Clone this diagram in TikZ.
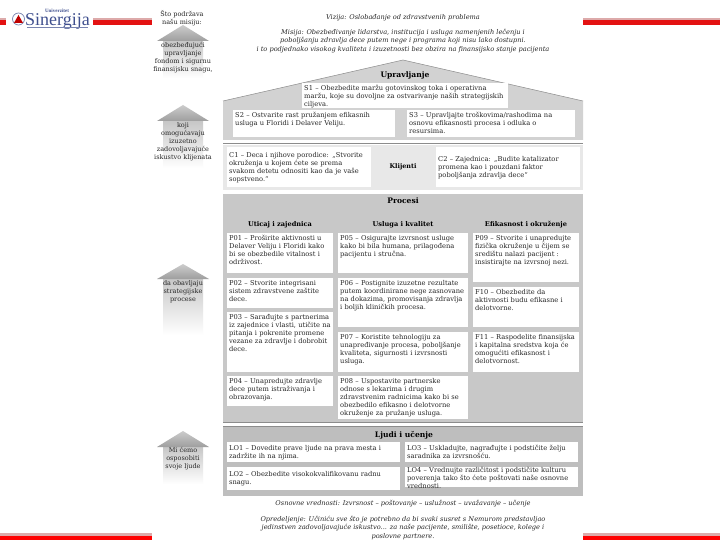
\documentclass[tikz,border=0pt]{standalone}
\usepackage{fontspec}
\usepackage{xcolor}
\setmainfont{DejaVu Serif}
\newfontfamily\logofont{Liberation Serif}
\usetikzlibrary{positioning}
\definecolor{roofgray}{HTML}{D2D2D2}
\definecolor{clientgray}{HTML}{E8E8E8}
\definecolor{procgray}{HTML}{C8C8C8}
\definecolor{peoplegray}{HTML}{BEBEBE}
\definecolor{rulegray}{HTML}{8C8C8C}
\definecolor{barred}{HTML}{E31212}
\definecolor{barpale}{HTML}{DDAAAA}
\definecolor{logoblue}{HTML}{3F4F8E}

\begin{document}
\begin{tikzpicture}[
    x=1pt,y=-1pt,
    card/.code 2 args={\pgfmathsetmacro{\cardw}{#1-4}\pgfmathsetmacro{\cardd}{#2-8.5}
        \tikzset{anchor=north west,fill=white,inner xsep=2pt,inner ysep=1.5pt,align=left,
                 font=\fontsize{6.7}{8}\selectfont,text=black!85,
                 text width=\cardw pt,text height=5.5pt,text depth=\cardd pt}},
    cardmid/.code 2 args={\pgfmathsetmacro{\cardw}{#1-4}
        \tikzset{anchor=north west,fill=white,inner xsep=2pt,inner ysep=0pt,align=left,
                 font=\fontsize{6.7}{8}\selectfont,text=black!85,
                 text width=\cardw pt,minimum height=#2pt}},
    head/.style={font=\fontsize{6.6}{8}\selectfont\bfseries,inner sep=0pt},
    bighead/.style={font=\fontsize{7.6}{8}\selectfont\bfseries,inner sep=0pt},
    side/.style={anchor=north,align=center,inner sep=0pt,font=\fontsize{6.5}{8}\selectfont,text=black!85},
    motto/.style={anchor=center,align=center,inner sep=0pt,font=\fontsize{6.6}{8.5}\selectfont\itshape,text=black!85},
    redbar/.style={fill=barred},
    palebar/.style={fill=barpale}
]
\useasboundingbox (0,0) rectangle (720,540);
\fill[white] (0,0) rectangle (720,540);

% red bars
\foreach \xa/\xb in {0/6,93/152,583/720}{
  \fill[palebar] (\xa,18.5) rectangle (\xb,20.5);
  \fill[redbar] (\xa,20.5) rectangle (\xb,25);
}
\fill[palebar] (0,533) rectangle (152,535.5);
\fill[palebar] (583,533) rectangle (720,535.5);
\fill[red] (0,535.5) rectangle (152,540);
\fill[red] (583,535.5) rectangle (720,540);

% logo
\draw[logoblue!70,line width=0.7pt] (18.5,19) circle (6);
\fill[red!75!black] (14,23) -- (18.5,15) -- (23,23) -- cycle;
\node[inner sep=0pt,text=logoblue,font=\logofont\fontsize{18}{18}\selectfont] (sinergija) at (57.5,21.5) {Sinergija};
\node[inner sep=0pt,text=logoblue,font=\logofont\fontsize{5}{5}\selectfont\bfseries] (univerzitet) at (57,11) {Univerzitet};
\draw[logoblue!70,line width=0.5pt] (27,27.5) -- (88,27.5);

% side arrows
\foreach \tipy/\wingy/\endy in {25/41/78,105/121/168,264/279/335,431/447/484}{
  \shade[top color=black!22,bottom color=white] (163,\wingy) rectangle (203,\endy);
  \shade[top color=black!20,bottom color=black!38] (157,\wingy) -- (183,\tipy) -- (209,\wingy) -- cycle;
}
\node[side] (podrzava) at (182,10) {Što podržava\\našu misiju:};
\node[side] (obezbedjujuci) at (183,42) {obezbeđujući\\upravljanje\\fondom i sigurnu\\finansijsku snagu,};
\node[side] (koji) at (183,122) {koji\\omogućavaju\\izuzetno\\zadovoljavajuće\\iskustvo klijenata};
\node[side] (obavljaju) at (183,280) {da obavljaju\\strategijske\\procese};
\node[side] (osposobiti) at (183,447) {Mi ćemo\\osposobiti\\svoje ljude};

% vision and mission
\node[motto] (vizija) at (403,18) {Vizija: Oslobađanje od zdravstvenih problema};
\node[motto,anchor=north] (misija) at (403,29) {Misija: Obezbeđivanje lidarstva, institucija i usluga namenjenih lečenju i\\
  poboljšanju zdravlja dece putem nege i programa koji nisu lako dostupni.\\
  i to podjednako visokog kvaliteta i izuzetnosti bez obzira na finansijsko stanje pacijenta};

% panels
\fill[roofgray] (223,101) -- (403,60) -- (583,101) -- (583,140) -- (223,140) -- cycle;
\draw[black!45,line width=0.5pt] (223,101) -- (403,60) -- (583,101);
\draw[rulegray,line width=0.8pt] (223,143) -- (583,143);
\fill[clientgray] (223,145) rectangle (583,190);
\fill[procgray] (223,194) rectangle (583,421.5);
\draw[rulegray,line width=0.8pt] (223,422.5) -- (583,422.5);
\draw[rulegray,line width=0.8pt] (223,426) -- (583,426);
\fill[peoplegray] (223,426.5) rectangle (583,496);

% upravljanje
\node[bighead] (upravljanje) at (405,75) {Upravljanje};
\node[card={206}{25}] (s1) at (302,83) {S1 – Obezbedite maržu gotovinskog toka i operativna\\maržu, koje su dovoljne za ostvarivanje naših strategijskih\\ciljeva.};
\node[card={162}{27}] (s2) at (233,110) {S2 – Ostvarite rast pružanjem efikasnih\\usluga u Floridi i Delaver Veliju.};
\node[card={168}{27}] (s3) at (407,110) {S3 – Upravljajte troškovima/rashodima na\\osnovu efikasnosti procesa i odluka o\\resursima.};

% klijenti
\node[cardmid={144}{40}] (c1) at (227,147) {C1 – Deca i njihove porodice: „Stvorite\\okruženja u kojem ćete se prema\\svakom detetu odnositi kao da je vaše\\sopstveno.“};
\node[head,font=\fontsize{6.4}{8}\selectfont\bfseries] (klijenti) at (403,167) {Klijenti};
\node[cardmid={144}{40}] (c2) at (436,147) {C2 – Zajednica: „Budite katalizator\\promena kao i pouzdani faktor\\poboljšanja zdravlja dece“};

% procesi
\node[bighead] (procesi) at (403,201) {Procesi};
\node[head] (uticaj) at (280,225) {Uticaj i zajednica};
\node[head] (usluga) at (403,225) {Usluga i kvalitet};
\node[head] (efikasnost) at (526,225) {Efikasnost i okruženje};

\node[card={106}{40}] (p01) at (227,233) {P01 – Proširite aktivnosti u\\Delaver Veliju i Floridi kako\\bi se obezbedile vitalnost i\\održivost.};
\node[card={106}{30}] (p02) at (227,278) {P02 – Stvorite integrisani\\sistem zdravstvene zaštite\\dece.};
\node[card={106}{60}] (p03) at (227,312) {P03 – Sarađujte s partnerima\\iz zajednice i vlasti, utičite na\\pitanja i pokrenite promene\\vezane za zdravlje i dobrobit\\dece.};
\node[card={106}{30}] (p04) at (227,376) {P04 – Unapredujte zdravlje\\dece putem istraživanja i\\obrazovanja.};

\node[card={130}{40}] (p05) at (338,233) {P05 – Osigurajte izvrsnost usluge\\kako bi bila humana, prilagođena\\pacijentu i stručna.};
\node[card={130}{49}] (p06) at (338,278) {P06 – Postignite izuzetne rezultate\\putem koordinirane nege zasnovane\\na dokazima, promovisanja zdravlja\\i boljih kliničkih procesa.};
\node[card={130}{40}] (p07) at (338,332) {P07 – Koristite tehnologiju za\\unapređivanje procesa, poboljšanje\\kvaliteta, sigurnosti i izvrsnosti\\usluga.};
\node[card={130}{43}] (p08) at (338,376) {P08 – Uspostavite partnerske\\odnose s lekarima i drugim\\zdravstvenim radnicima kako bi se\\obezbedilo efikasno i delotvorne\\okruženje za pružanje usluga.};

\node[card={106}{49}] (p09) at (473,233) {P09 – Stvorite i unapredujte\\fizička okruženje u čijem se\\središtu nalazi pacijent :\\insistirajte na izvrsnoj nezi.};
\node[card={106}{40}] (f10) at (473,287) {F10 – Obezbedite da\\aktivnosti budu efikasne i\\delotvorne.};
\node[card={106}{40}] (f11) at (473,332) {F11 – Raspodelite finansijska\\i kapitalna sredstva koja će\\omogućiti efikasnost i\\delotvornost.};

% ljudi i ucenje
\node[bighead] (ljudi) at (404,435) {Ljudi i učenje};
\node[cardmid={173}{20}] (lo1) at (227,442) {LO1 – Dovedite prave ljude na prava mesta i\\zadržite ih na njima.};
\node[cardmid={173}{23}] (lo2) at (227,467) {LO2 – Obezbedite visokokvalifikovanu radnu\\snagu.};
\node[cardmid={173}{20}] (lo3) at (405,442) {LO3 – Uskladujte, nagrađujte i podstičite želju\\saradnika za izvrsnošću.};
\node[card={173}{23},inner ysep=0pt] (lo4) at (405,467) {LO4 – Vrednujte različitost i podstičite kulturu\\poverenja tako što ćete poštovati naše osnovne\\vrednosti.};

% values
\node[motto] (vrednosti) at (403,504) {Osnovne vrednosti: Izvrsnost – poštovanje – uslužnost – uvažavanje – učenje};
\node[motto,anchor=north] (opredeljenje) at (403,516) {Opredeljenje: Učiniću sve što je potrebno da bi svaki susret s Nemurom predstavljao\\
  jedinstven zadovoljavajuće iskustvo... za naše pacijente, smilište, posetioce, kolege i\\
  poslovne partnere.};
\end{tikzpicture}
\end{document}
